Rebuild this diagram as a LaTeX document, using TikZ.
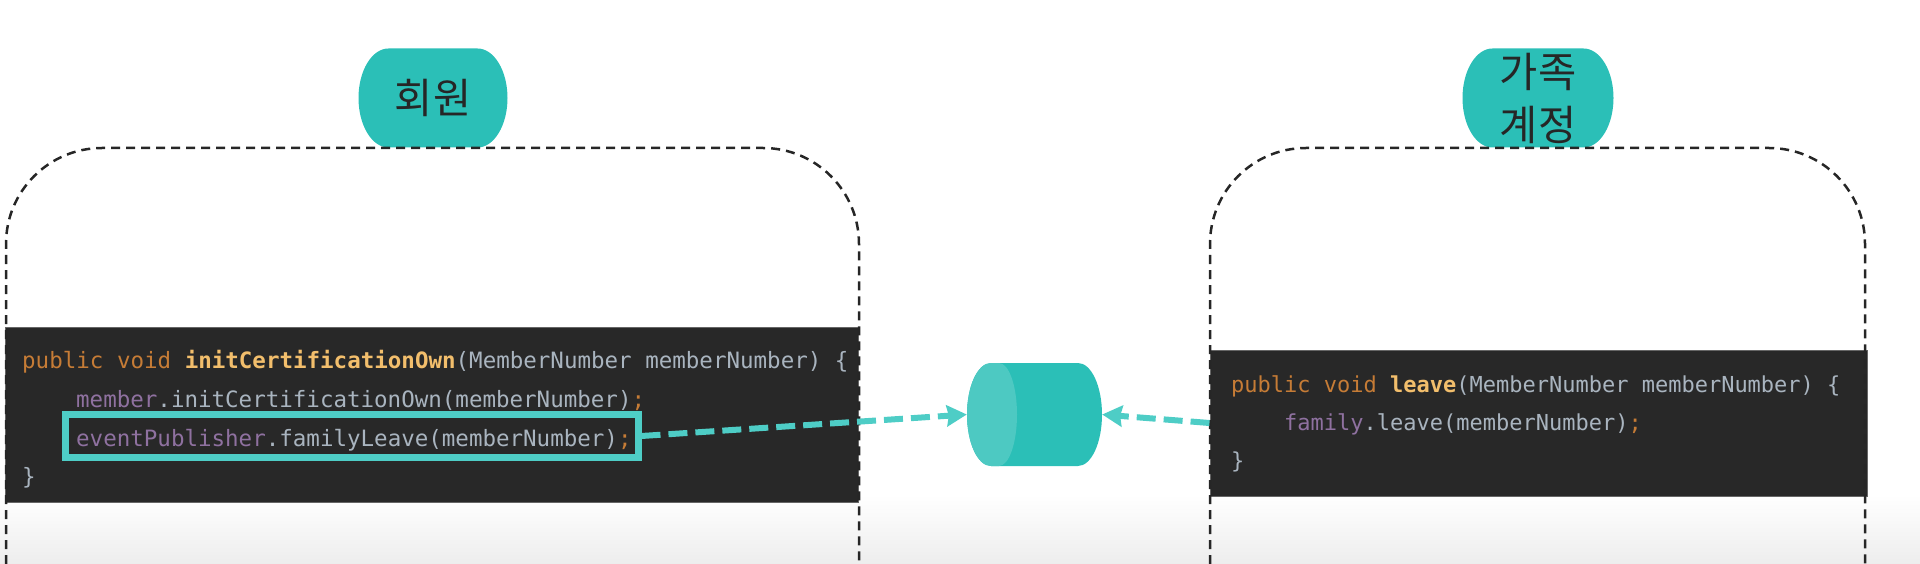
\documentclass[tikz,border=0pt]{standalone}
\usepackage{fontspec}
\setmonofont{DejaVu Sans Mono}
\newfontfamily\krfont{Noto Sans CJK KR}
\usetikzlibrary{arrows.meta}

\definecolor{tealbody}{HTML}{2BBFB7}
\definecolor{tealface}{HTML}{4DC9C2}
\definecolor{tealline}{HTML}{4ECDC6}
\definecolor{panelbg}{HTML}{282828}
\definecolor{kwcolor}{HTML}{C67C36}
\definecolor{fncolor}{HTML}{F2BE6C}
\definecolor{fdcolor}{HTML}{8F71A0}
\definecolor{txtcolor}{HTML}{A9B4BF}

\newcommand{\kw}[1]{\textcolor{kwcolor}{#1}}
\newcommand{\fn}[1]{\textcolor{fncolor}{\bfseries #1}}
\newcommand{\fd}[1]{\textcolor{fdcolor}{#1}}

\tikzset{
  barrel/.style n args={3}{minimum width=#1pt, minimum height=#2pt, inner sep=0pt,
    path picture={\fill[tealbody]
      ([xshift=-#3pt]path picture bounding box.north east) arc [start angle=90, end angle=-90, x radius=#3pt, y radius=#2pt/2]
      -- ([xshift=#3pt]path picture bounding box.south west) arc [start angle=-90, end angle=-270, x radius=#3pt, y radius=#2pt/2]
      -- cycle;}},
  title/.style={font=\krfont\fontsize{41.5}{53}\selectfont, text=black!85, align=center},
  frame/.style={draw=black!85, line width=2.5pt, dash pattern=on 9pt off 6pt, rounded corners=96pt},
  panel/.style={fill=panelbg, draw=black!60, line width=1pt, inner sep=0pt},
  codeleft/.style={anchor=base west, inner sep=0pt, text=txtcolor, font=\ttfamily\fontsize{22.5}{27}\selectfont},
  coderight/.style={codeleft, font=\ttfamily\fontsize{22}{27}\selectfont},
  flow/.style={draw=tealline, line width=6pt, dash pattern=on 19pt off 8pt, -{Stealth[length=20pt,width=21pt,inset=2pt]}}
}

\begin{document}
\begin{tikzpicture}[x=1pt,y=-1pt]
  \useasboundingbox (0,0) rectangle (1920,564);
  \shade[top color=white, bottom color=black!7] (0,495) rectangle (1920,564);

  \node[barrel={149}{99}{30}, title] (member) at (433,98) {회원};
  \node[barrel={151}{99}{30}, title] (family) at (1538,98) {가족\\계정};

  \node[panel, minimum width=853pt, minimum height=175pt] (memberpanel) at (431.5,414.5) {};
  \node[panel, minimum width=657pt, minimum height=146pt] (familypanel) at (1538.5,423) {};

  \draw[frame] (6,564) -- (6,148) -- (859,148) -- (859,564);
  \draw[frame] (1210,564) -- (1210,148) -- (1865,148) -- (1865,564);

  \node[codeleft] (sigown) at (22,368) {\kw{public void} \fn{initCertificationOwn}(MemberNumber memberNumber) \{};
  \node[codeleft] (callown) at (76,407) {\fd{member}.initCertificationOwn(memberNumber)\kw{;}};
  \node[codeleft] (callleave) at (76,446) {\fd{eventPublisher}.familyLeave(memberNumber)\kw{;}};
  \node[codeleft] (endown) at (22,484) {\}};

  \node[coderight] (sigleave) at (1231,392) {\kw{public void} \fn{leave}(MemberNumber memberNumber) \{};
  \node[coderight] (callfamily) at (1284,430) {\fd{family}.leave(memberNumber)\kw{;}};
  \node[coderight] (endleave) at (1231,468) {\}};

  \node[draw=tealline, line width=7pt, minimum width=573pt, minimum height=43pt, inner sep=0pt] (highlight) at (351.5,436) {};

  \node[barrel={135}{103}{24}] (queue) at (1034.5,414.5) {};
  \fill[tealface] (991,363) arc [start angle=90, end angle=270, x radius=24pt, y radius=51.5pt]
    -- (999,466) arc [start angle=-90, end angle=90, x radius=18pt, y radius=51.5pt] -- cycle;

  \draw[flow] (highlight.east) -- (queue.west);
  \draw[flow] (familypanel.west) -- (queue.east);
\end{tikzpicture}
\end{document}
